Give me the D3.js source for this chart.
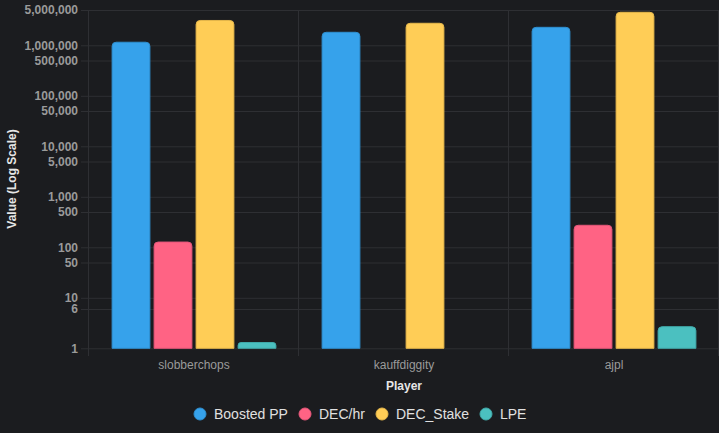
<!DOCTYPE html>
<html><head><meta charset="utf-8">
<script src="https://cdn.jsdelivr.net/npm/d3@7"></script>
<style>
html,body{margin:0;padding:0;background:#1b1c1f;}
svg{display:block;}
</style></head><body>
<svg id="chart" width="719" height="433"></svg>
<script>
const players = ["slobberchops", "kauffdiggity", "ajpl"];
const seriesNames = ["Boosted PP", "DEC/hr", "DEC_Stake", "LPE"];
const boostedPP = [1150000, 1810000, 2270000];
const decHr = [127, null, 273];
const decStake = [3100000, 2730000, 4500000];
const lpe = [1.3, null, 2.68];
const yTicks = [1, 6, 10, 50, 100, 500, 1000, 5000, 10000, 50000, 100000, 500000, 1000000, 5000000];
const colors = ["#36a2eb", "#ff6384", "#ffcd56", "#4bc0c0"];
const borderColors = ["#2f8fd0", "#e5577a", "#e6b84c", "#42abab"];

const seriesValues = [boostedPP, decHr, decStake, lpe];
const W = 719, H = 433;
const m = {left: 89, right: 0, top: 10, bottom: 85};
const svg = d3.select("#chart");
const font = "'Liberation Sans', Arial, Helvetica, sans-serif";

const x0 = d3.scaleBand().domain(players).range([m.left, W - m.right]).paddingInner(0).paddingOuter(0);
const x1 = d3.scaleBand().domain(seriesNames).range([0, x0.bandwidth() * 0.8]).paddingInner(0.1).paddingOuter(0.05);
const y = d3.scaleLog().domain([1, 5000000]).range([H - m.bottom + 0.3, m.top]);

const grid = "#2e2f33";
// horizontal grid lines + tick marks
const yAxis = d3.axisLeft(y).tickValues(yTicks).tickFormat(d3.format(",")).tickSize(8).tickPadding(3);
const gy = svg.append("g").attr("transform", `translate(${m.left},0)`).call(yAxis);
gy.select(".domain").remove();
gy.selectAll(".tick line").attr("stroke", grid).attr("x2", W - m.left).attr("x1", -8);
gy.selectAll(".tick text").attr("fill", "#9a9a9a").style("font-family", font).style("font-size", "12px").style("font-weight", "bold");

// vertical grid lines at category boundaries
const bounds = players.map(p => x0(p)).concat([x0(players[players.length-1]) + x0.bandwidth()]);
svg.append("g").selectAll("line").data(bounds).join("line")
  .attr("x1", d => d - 0.5).attr("x2", d => d - 0.5)
  .attr("y1", m.top).attr("y2", H - m.bottom + 8)
  .attr("stroke", grid);

// x axis labels
const xAxis = d3.axisBottom(x0).tickSize(0).tickPadding(12);
const gx = svg.append("g").attr("transform", `translate(0,${H - m.bottom})`).call(xAxis);
gx.select(".domain").remove();
gx.selectAll(".tick text").attr("fill", "#9a9a9a").style("font-family", font).style("font-size", "12px");

// bars
const groupOffset = x0.bandwidth() * 0.1;
const r = 4;
function barPath(x, yTop, w, yBot) {
  const rr = Math.min(r, (yBot - yTop) / 2, w / 2);
  return `M${x},${yBot}V${yTop + rr}Q${x},${yTop} ${x + rr},${yTop}H${x + w - rr}Q${x + w},${yTop} ${x + w},${yTop + rr}V${yBot}Z`;
}
seriesNames.forEach((s, si) => {
  const data = players.map((p, i) => ({p, v: seriesValues[si][i]})).filter(d => d.v != null);
  svg.append("g").selectAll("path").data(data).join("path")
    .attr("d", d => {
      const bx = x0(d.p) + groupOffset + x1(s);
      return barPath(bx, y(d.v), x1.bandwidth(), y(1));
    })
    .attr("fill", colors[si])
    .attr("stroke", borderColors[si])
    .attr("stroke-width", 1);
});

// axis titles
svg.append("text").attr("x", (m.left + W - m.right) / 2).attr("y", 390)
  .attr("text-anchor", "middle").attr("fill", "#e6e6e6")
  .style("font-family", font).style("font-size", "12px").style("font-weight", "bold").text("Player");
svg.append("text").attr("transform", `translate(16,${(m.top + H - m.bottom) / 2}) rotate(-90)`)
  .attr("text-anchor", "middle").attr("fill", "#e6e6e6")
  .style("font-family", font).style("font-size", "12px").style("font-weight", "bold").text("Value (Log Scale)");

// legend
const legendX = [200, 305, 382, 486];
const lg = svg.append("g");
seriesNames.forEach((s, i) => {
  lg.append("circle").attr("cx", legendX[i]).attr("cy", 414).attr("r", 6).attr("fill", colors[i]).attr("stroke", borderColors[i]);
  lg.append("text").attr("x", legendX[i] + 14).attr("y", 419).attr("fill", "#e0e0e0")
    .style("font-family", font).style("font-size", "14px").text(s);
});
</script>
</body></html>
